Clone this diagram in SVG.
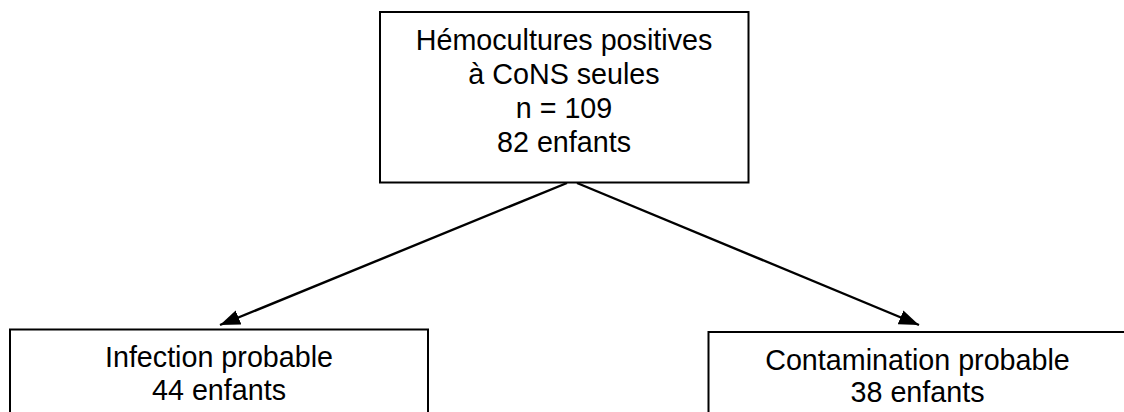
<svg xmlns="http://www.w3.org/2000/svg" width="1124" height="412" viewBox="0 0 1124 412">
<style>
.box{fill:#fff;stroke:#000;stroke-width:2}
.t{font-family:"Liberation Sans",Arial,sans-serif;font-size:28.7px;fill:#000;text-anchor:middle}
.c{stroke:#000;stroke-width:2.4;fill:none}
</style>
<defs>
<marker id="ah" markerUnits="userSpaceOnUse" markerWidth="22" markerHeight="16" refX="20" refY="7.5" orient="auto">
<path d="M0,0 L20,7.5 L0,15 Z" fill="#000"/>
</marker>
</defs>
<rect width="1124" height="412" fill="#fff"/>
<g id="connectors">
<line class="c" x1="567" y1="183" x2="220" y2="325" marker-end="url(#ah)"/>
<line class="c" x1="577" y1="183" x2="919" y2="325" marker-end="url(#ah)"/>
</g>
<g id="top">
<rect class="box" x="380" y="12" width="368.5" height="170.5"/>
<text class="t" x="564" y="50">Hémocultures positives</text>
<text class="t" x="564" y="84">à CoNS seules</text>
<text class="t" x="564" y="118">n = 109</text>
<text class="t" x="564" y="152">82 enfants</text>
</g>
<g id="left">
<rect class="box" x="10" y="329.5" width="418" height="100"/>
<text class="t" x="219" y="367">Infection probable</text>
<text class="t" x="219" y="400">44 enfants</text>
</g>
<g id="right">
<rect class="box" x="708.5" y="332" width="430" height="100"/>
<text class="t" x="917.5" y="369.5">Contamination probable</text>
<text class="t" x="917.5" y="402">38 enfants</text>
</g>
</svg>
